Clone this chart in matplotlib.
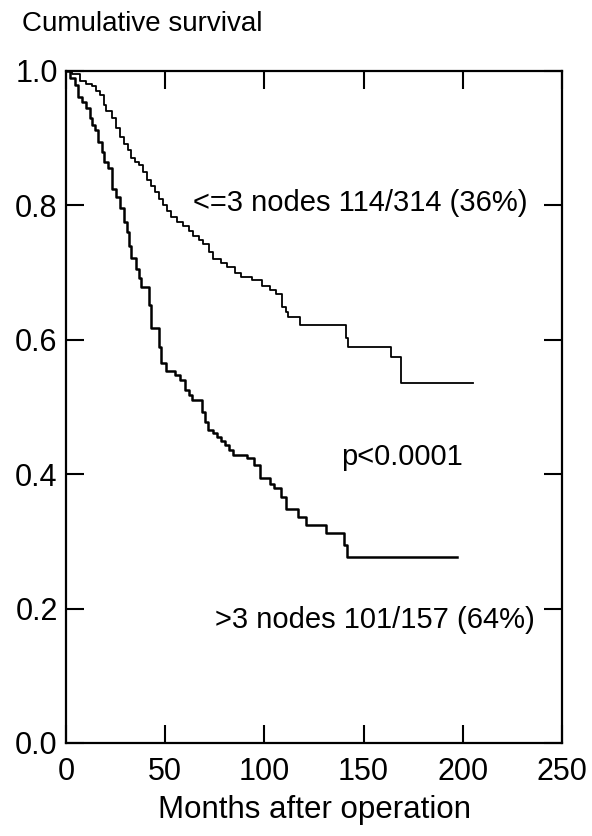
import matplotlib.pyplot as plt

plt.rcParams["font.family"] = ["Liberation Sans", "DejaVu Sans"]

# Kaplan-Meier steps (months, cumulative survival)
low_nodes_t = [0, 3, 7, 10, 13, 15, 17, 19, 20, 23, 25, 27, 29, 31, 33, 35, 37,
               39, 41, 43, 45, 47, 49, 51, 53, 56, 59, 62, 64, 67, 69, 72, 74,
               78, 81, 85, 88, 94, 99, 103, 106, 109, 111, 112, 118, 141, 142,
               164, 169, 205]
low_nodes_s = [1.000, 0.995, 0.985, 0.981, 0.977, 0.970, 0.964, 0.950, 0.940,
               0.930, 0.915, 0.902, 0.892, 0.882, 0.870, 0.865, 0.860, 0.849,
               0.838, 0.829, 0.820, 0.810, 0.800, 0.792, 0.783, 0.776, 0.770,
               0.762, 0.755, 0.748, 0.742, 0.730, 0.720, 0.714, 0.709, 0.700,
               0.694, 0.689, 0.680, 0.674, 0.668, 0.649, 0.641, 0.634, 0.622,
               0.603, 0.590, 0.575, 0.536, 0.536]

high_nodes_t = [0, 2, 4.5, 6, 8, 10, 12, 13, 14.5, 16, 18, 19, 21, 23, 25, 27,
                29, 30.5, 32, 33, 35.5, 37, 38, 42, 43, 47, 48, 50.5, 55, 57.5,
                60, 62, 63.5, 68.5, 70, 71.5, 74, 76, 78, 80, 82, 84, 91, 95,
                98, 103, 105, 108.5, 111, 117, 121, 131, 140, 141.5, 197]
high_nodes_s = [1.000, 0.990, 0.979, 0.962, 0.954, 0.945, 0.930, 0.920, 0.912,
                0.895, 0.880, 0.865, 0.855, 0.825, 0.812, 0.796, 0.776, 0.761,
                0.740, 0.721, 0.706, 0.692, 0.679, 0.652, 0.617, 0.590, 0.565,
                0.553, 0.548, 0.540, 0.525, 0.518, 0.510, 0.493, 0.478, 0.466,
                0.461, 0.456, 0.450, 0.443, 0.436, 0.428, 0.424, 0.414, 0.394,
                0.386, 0.380, 0.366, 0.348, 0.337, 0.325, 0.312, 0.295, 0.277,
                0.277]

x_ticks = [0, 50, 100, 150, 200, 250]
y_ticks = [0.0, 0.2, 0.4, 0.6, 0.8, 1.0]

fig = plt.figure(figsize=(5.92, 8.36), dpi=100)
ax = fig.add_axes([66 / 592, 1 - 743 / 836, 496 / 592, 672 / 836])

ax.plot(low_nodes_t, low_nodes_s, drawstyle="steps-post", color="black", lw=1.3)
ax.plot(high_nodes_t, high_nodes_s, drawstyle="steps-post", color="black", lw=1.8)

ax.set_xlim(0, 250)
ax.set_ylim(0, 1)
ax.set_xticks(x_ticks)
ax.set_yticks(y_ticks)
ax.set_yticklabels([f"{v:.1f}" for v in y_ticks])
ax.tick_params(direction="in", length=13, width=1.5, labelsize=22,
               top=True, right=True)
ax.tick_params(axis="x", pad=10)
ax.tick_params(axis="y", pad=6)
for s in ax.spines.values():
    s.set_linewidth(1.6)

ax.set_xlabel("Months after operation", fontsize=22.5, labelpad=6)
fig.text(22 / 592, 1 - 24 / 836, "Cumulative survival", fontsize=20,
         ha="left", va="center")

ax.text(64, 0.804, "<=3 nodes 114/314 (36%)", fontsize=21, ha="left", va="center")
ax.text(169.5, 0.426, "p<0.0001", fontsize=21, ha="center", va="center")
ax.text(75, 0.183, ">3 nodes 101/157 (64%)", fontsize=21, ha="left", va="center")

fig.savefig("out.png", dpi=100)
